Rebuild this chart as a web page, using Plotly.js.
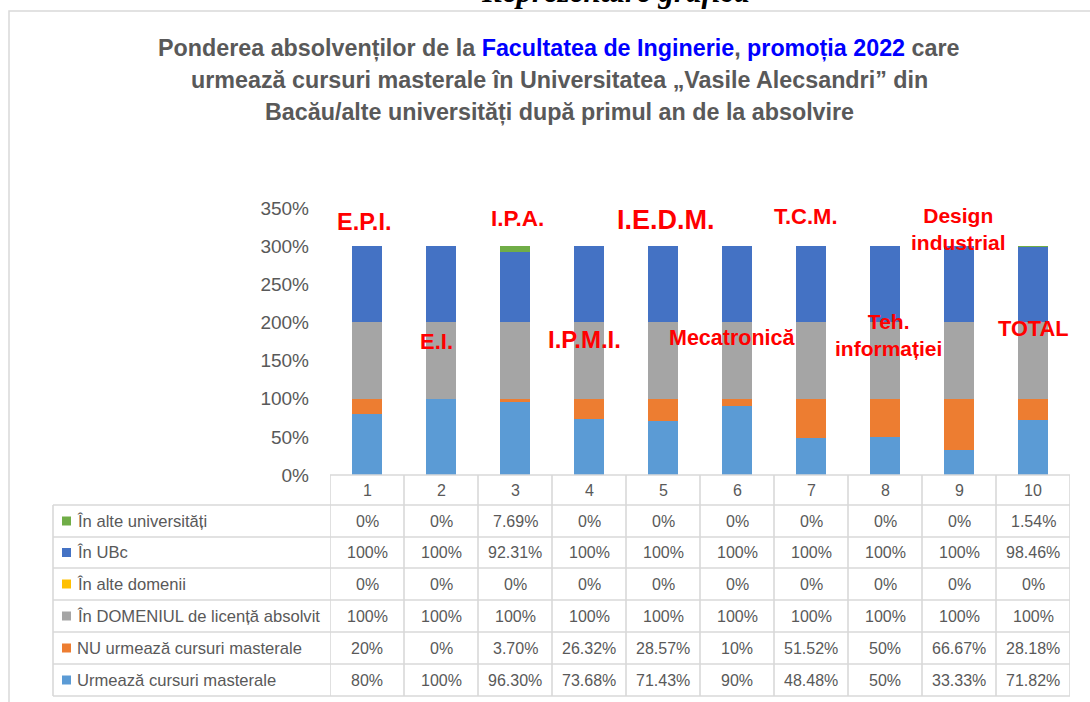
<!DOCTYPE html>
<html><head><meta charset="utf-8">
<script src="https://cdn.plot.ly/plotly-3.0.1.min.js"></script>
<style>html,body{margin:0;padding:0;background:#fff}#chart{width:1090px;height:702px}</style>
</head><body><div id="chart"></div>
<script>
// ---------- DATA ----------
const categories = [1, 2, 3, 4, 5, 6, 7, 8, 9, 10];
const urmeaza      = [80, 100, 96.30, 73.68, 71.43, 90, 48.48, 50, 33.33, 71.82];
const nuUrmeaza    = [20, 0, 3.70, 26.32, 28.57, 10, 51.52, 50, 66.67, 28.18];
const inDomeniu    = [100, 100, 100, 100, 100, 100, 100, 100, 100, 100];
const inAlteDomenii= [0, 0, 0, 0, 0, 0, 0, 0, 0, 0];
const inUBc        = [100, 100, 92.31, 100, 100, 100, 100, 100, 100, 98.46];
const inAlteUniv   = [0, 0, 7.69, 0, 0, 0, 0, 0, 0, 1.54];
const seriesNames = ["Urmează cursuri masterale", "NU urmează cursuri masterale",
  "În DOMENIUL de licență absolvit", "În alte domenii", "În UBc", "În alte universități"];
const programLabels = ["E.P.I.", "E.I.", "I.P.A.", "I.P.M.I.", "I.E.D.M.", "Mecatronică",
  "T.C.M.", "Teh.<br>informației", "Design<br>industrial", "TOTAL"];
const yTickValues = [0, 50, 100, 150, 200, 250, 300, 350];
const titleLines = [
  'Ponderea absolvenților de la <span style="color:#0000FF">Facultatea de Inginerie</span>, <span style="color:#0000FF">promoția 2022</span> care',
  'urmează cursuri masterale în Universitatea „Vasile Alecsandri” din',
  'Bacău/alte universități după primul an de la absolvire'
];
const headerText = "Reprezentare grafică";

// ---------- STYLE / LAYOUT ----------
const colors = ["#5B9BD5", "#ED7D31", "#A5A5A5", "#FFC000", "#4472C4", "#70AD47"];
const seriesData = [urmeaza, nuUrmeaza, inDomeniu, inAlteDomenii, inUBc, inAlteUniv];
const W = 1090, H = 702, L = 330, R = 1070, T = 208, B = 475;
const px = p => (p - L) / (R - L);
const py = p => (B - p) / (B - T);
const gray = "#595959", gridC = "#D9D9D9";
const FONT = "Liberation Sans, Arial, sans-serif";

const traces = seriesData.map((vals, i) => ({
  type: "bar", x: categories, y: vals, name: seriesNames[i],
  marker: {color: colors[i], line: {width: 0}}, width: 0.4,
  hoverinfo: "x+y+name"
}));

const annotations = [];
const shapes = [];

// header text (cut at top, as in the source page)
annotations.push({xref: "paper", yref: "paper", x: px(615), y: py(-9), xanchor: "center", yanchor: "middle",
  text: "<b><i>" + headerText + "</i></b>", showarrow: false,
  font: {family: "Liberation Serif, Times New Roman, serif", size: 31, color: "#000"}});

// title lines
const titleY = [48, 80, 112];
titleLines.forEach((t, i) => annotations.push({xref: "paper", yref: "paper", x: px(559), y: py(titleY[i]),
  xanchor: "center", yanchor: "middle", text: "<b>" + t + "</b>", showarrow: false,
  font: {family: FONT, size: 23.3, color: gray}}));

// program labels
const labelPos = [[364, 222, 23.5], [436, 341, 22], [517, 218, 22.5], [584, 339, 24], [666, 220, 27],
  [732, 338, 21.5], [806, 216, 22], [888, 335, 21], [958, 229, 21], [1033, 328, 21.8]];
programLabels.forEach((t, i) => annotations.push({xref: "paper", yref: "paper",
  x: px(labelPos[i][0]), y: py(labelPos[i][1]), xanchor: "center", yanchor: "middle",
  text: "<b>" + t + "</b>", showarrow: false,
  font: {family: FONT, size: labelPos[i][2], color: "#FF0000"}}));

// frame
shapes.push({type: "rect", xref: "paper", yref: "paper", x0: px(9), x1: px(1200), y0: py(11), y1: py(800),
  line: {color: gridC, width: 1.5}, fillcolor: "rgba(0,0,0,0)", layer: "below"});

// table
const rowEdges = [475, 505, 537, 568, 600, 632, 664, 696];
const tableLeft = 53;
rowEdges.forEach((e, i) => shapes.push({type: "line", xref: "paper", yref: "paper",
  x0: px(i === 0 ? L : tableLeft), x1: px(R), y0: py(e), y1: py(e), line: {color: gridC, width: 1.6}}));
shapes.push({type: "line", xref: "paper", yref: "paper", x0: px(tableLeft), x1: px(tableLeft),
  y0: py(rowEdges[1]), y1: py(rowEdges[7]), line: {color: gridC, width: 1.6}});
for (let i = 0; i <= categories.length; i++) {
  shapes.push({type: "line", xref: "x", yref: "paper", x0: i + 0.5, x1: i + 0.5,
    y0: py(rowEdges[0]), y1: py(rowEdges[7]), line: {color: gridC, width: 1.6}});
}
categories.forEach(c => annotations.push({xref: "x", yref: "paper", x: c, y: py((rowEdges[0] + rowEdges[1]) / 2),
  xanchor: "center", yanchor: "middle", text: String(c), showarrow: false, font: {family: FONT, size: 16, color: gray}}));
const fmt = v => (Number.isInteger(v) ? String(v) : v.toFixed(2)) + "%";
for (let r = 0; r < 6; r++) {
  const si = 5 - r;
  const cy = (rowEdges[r + 1] + rowEdges[r + 2]) / 2;
  shapes.push({type: "rect", xref: "paper", yref: "paper", x0: px(62), x1: px(71), y0: py(cy - 4.5), y1: py(cy + 4.5),
    line: {width: 0}, fillcolor: colors[si]});
  annotations.push({xref: "paper", yref: "paper", x: px(75), y: py(cy), xanchor: "left", yanchor: "middle",
    text: seriesNames[si], showarrow: false, font: {family: FONT, size: 16.6, color: gray}});
  seriesData[si].forEach((v, k) => annotations.push({xref: "x", yref: "paper", x: categories[k], y: py(cy),
    xanchor: "center", yanchor: "middle", text: fmt(v), showarrow: false, font: {family: FONT, size: 16, color: gray}}));
}

const layout = {
  width: W, height: H, barmode: "stack", showlegend: false,
  margin: {l: L, r: W - R, t: T, b: H - B, pad: 0},
  paper_bgcolor: "#fff", plot_bgcolor: "#fff",
  xaxis: {range: [0.5, 10.5], showticklabels: false, showgrid: false, zeroline: false, showline: false, fixedrange: true},
  yaxis: {range: [0, 350], tickvals: yTickValues, ticktext: yTickValues.map(v => v + "%"),
    showgrid: false, zeroline: false, showline: false, ticks: "", ticklabelstandoff: 20,
    tickfont: {family: FONT, size: 19, color: gray}, fixedrange: true},
  annotations: annotations, shapes: shapes
};
Plotly.newPlot("chart", traces, layout, {displayModeBar: false, staticPlot: true});
</script></body></html>
